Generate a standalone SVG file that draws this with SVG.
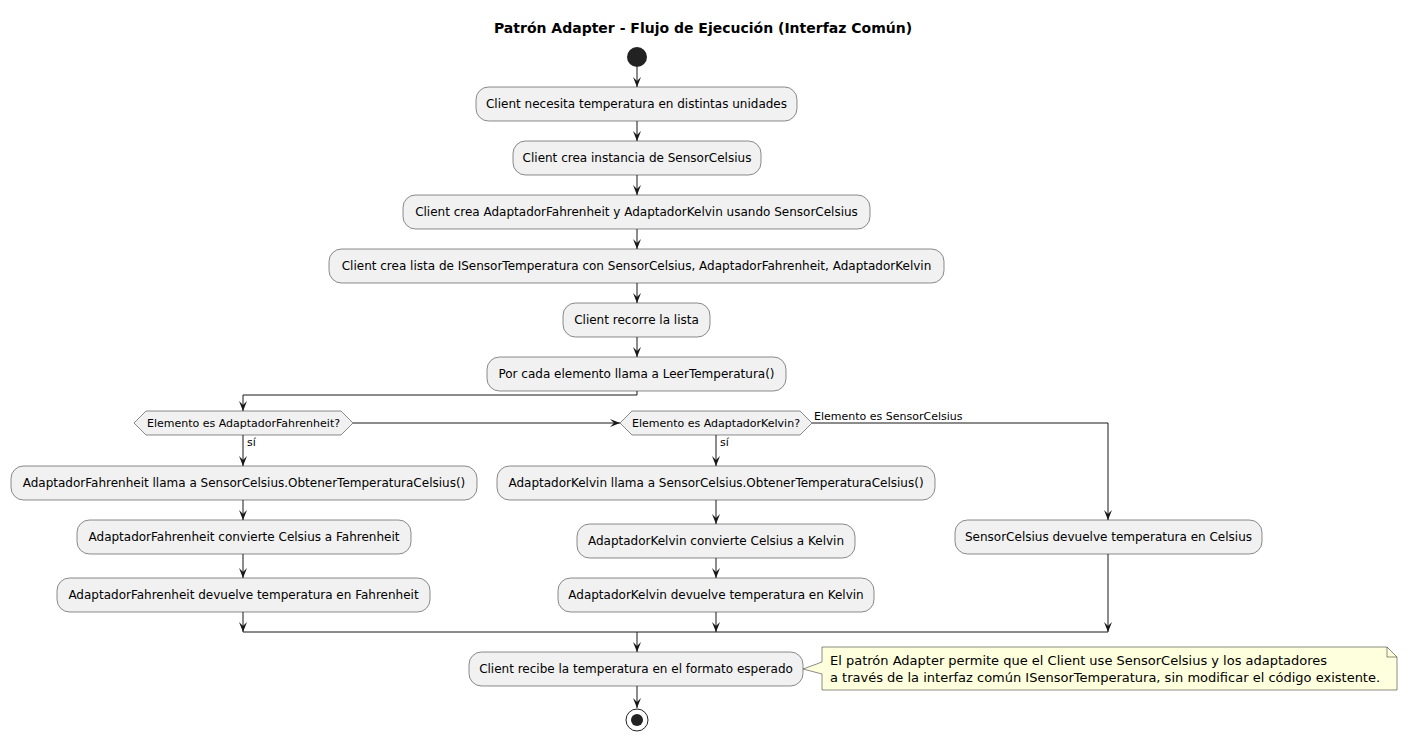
<svg xmlns="http://www.w3.org/2000/svg" width="1408" height="741" viewBox="0 0 1408 741">
<defs>
<marker id="ah" viewBox="0 0 10 10" refX="10" refY="5" markerWidth="10" markerHeight="10" markerUnits="userSpaceOnUse" orient="auto">
<path d="M0,1 L10,5 L0,9 L4,5 Z" fill="#181818"/>
</marker>
<style>
.n{fill:#F1F1F1;stroke:#181818;stroke-width:0.5}
.t{font-family:"DejaVu Sans",sans-serif;font-size:12px;fill:#000;text-anchor:middle}
.d{font-family:"DejaVu Sans",sans-serif;font-size:11px;fill:#000;text-anchor:middle}
.l{font-family:"DejaVu Sans",sans-serif;font-size:11px;fill:#000}
.c{fill:none;stroke:#181818;stroke-width:1}
.a{fill:none;stroke:#181818;stroke-width:1;marker-end:url(#ah)}
.nt{font-family:"DejaVu Sans",sans-serif;font-size:13px;fill:#000}
</style>
</defs>
<rect width="1408" height="741" fill="#FFFFFF"/>
<text x="703" y="33" font-family="DejaVu Sans,sans-serif" font-size="14" font-weight="bold" text-anchor="middle">Patrón Adapter - Flujo de Ejecución (Interfaz Común)</text>

<g id="start"><circle cx="637" cy="57" r="10" fill="#222222"/></g>

<g id="n1"><rect class="n" x="476" y="87" width="321" height="34" rx="12.5"/><text class="t" x="636.5" y="108">Client necesita temperatura en distintas unidades</text></g>
<g id="n2"><rect class="n" x="513" y="141" width="248" height="34" rx="12.5"/><text class="t" x="637" y="162">Client crea instancia de SensorCelsius</text></g>
<g id="n3"><rect class="n" x="403" y="195" width="467" height="34" rx="12.5"/><text class="t" x="636.5" y="216">Client crea AdaptadorFahrenheit y AdaptadorKelvin usando SensorCelsius</text></g>
<g id="n4"><rect class="n" x="329" y="249" width="615" height="34" rx="12.5"/><text class="t" x="636.5" y="270">Client crea lista de ISensorTemperatura con SensorCelsius, AdaptadorFahrenheit, AdaptadorKelvin</text></g>
<g id="n5"><rect class="n" x="563" y="303" width="147" height="34" rx="12.5"/><text class="t" x="636.5" y="324">Client recorre la lista</text></g>
<g id="n6"><rect class="n" x="487" y="357" width="299" height="34" rx="12.5"/><text class="t" x="636.5" y="378">Por cada elemento llama a LeerTemperatura()</text></g>

<g id="d1"><polygon class="n" points="134,423 146,411 341,411 353,423 341,435 146,435"/><text class="d" x="243.5" y="427">Elemento es AdaptadorFahrenheit?</text></g>
<g id="d2"><polygon class="n" points="620,423 632,411 800,411 812,423 800,435 632,435"/><text class="d" x="716" y="427">Elemento es AdaptadorKelvin?</text></g>

<g id="f1"><rect class="n" x="11" y="466" width="466" height="34" rx="12.5"/><text class="t" x="244" y="487">AdaptadorFahrenheit llama a SensorCelsius.ObtenerTemperaturaCelsius()</text></g>
<g id="f2"><rect class="n" x="77" y="520" width="334" height="34" rx="12.5"/><text class="t" x="244" y="541">AdaptadorFahrenheit convierte Celsius a Fahrenheit</text></g>
<g id="f3"><rect class="n" x="57" y="578" width="373" height="34" rx="12.5"/><text class="t" x="243.5" y="599">AdaptadorFahrenheit devuelve temperatura en Fahrenheit</text></g>

<g id="k1"><rect class="n" x="497" y="466" width="438" height="34" rx="12.5"/><text class="t" x="716" y="487">AdaptadorKelvin llama a SensorCelsius.ObtenerTemperaturaCelsius()</text></g>
<g id="k2"><rect class="n" x="577" y="524" width="278" height="34" rx="12.5"/><text class="t" x="716" y="545">AdaptadorKelvin convierte Celsius a Kelvin</text></g>
<g id="k3"><rect class="n" x="558" y="578" width="316" height="34" rx="12.5"/><text class="t" x="716" y="599">AdaptadorKelvin devuelve temperatura en Kelvin</text></g>

<g id="s1"><rect class="n" x="955" y="520" width="307" height="34" rx="12.5"/><text class="t" x="1108.5" y="541">SensorCelsius devuelve temperatura en Celsius</text></g>

<g id="n7"><rect class="n" x="469" y="652" width="334" height="34" rx="12.5"/><text class="t" x="636" y="673">Client recibe la temperatura en el formato esperado</text></g>

<g id="end"><circle cx="637" cy="720" r="11" fill="none" stroke="#222222" stroke-width="1"/><circle cx="637" cy="720" r="6" fill="#222222"/></g>

<g id="note">
<polygon points="822,647 1387,647 1397,657 1397,690 822,690 822,674 803,669 822,662" fill="#FEFFDD" stroke="#181818" stroke-width="0.5"/>
<path d="M1387,647 L1387,657 L1397,657" fill="none" stroke="#181818" stroke-width="0.5"/>
<text class="nt" x="830" y="665">El patrón Adapter permite que el Client use SensorCelsius y los adaptadores</text>
<text class="nt" x="830" y="682">a través de la interfaz común ISensorTemperatura, sin modificar el código existente.</text>
</g>

<g id="connectors">
<line class="a" x1="637" y1="67" x2="637" y2="87"/>
<line class="a" x1="637" y1="121" x2="637" y2="141"/>
<line class="a" x1="637" y1="175" x2="637" y2="195"/>
<line class="a" x1="637" y1="229" x2="637" y2="249"/>
<line class="a" x1="637" y1="283" x2="637" y2="303"/>
<line class="a" x1="637" y1="337" x2="637" y2="357"/>
<polyline class="a" points="637,391 637,395 243,395 243,411"/>
<line class="a" x1="353" y1="423" x2="620" y2="423"/>
<polyline class="a" points="812,423 1108,423 1108,520"/>
<text class="l" x="814" y="420">Elemento es SensorCelsius</text>
<line class="a" x1="243" y1="435" x2="243" y2="466"/>
<text class="l" x="247" y="446">sí</text>
<line class="a" x1="243" y1="500" x2="243" y2="520"/>
<line class="a" x1="243" y1="554" x2="243" y2="578"/>
<line class="a" x1="243" y1="612" x2="243" y2="632"/>
<line class="a" x1="716" y1="435" x2="716" y2="466"/>
<text class="l" x="720" y="446">sí</text>
<line class="a" x1="716" y1="500" x2="716" y2="524"/>
<line class="a" x1="716" y1="558" x2="716" y2="578"/>
<line class="a" x1="716" y1="612" x2="716" y2="632"/>
<line class="a" x1="1108" y1="554" x2="1108" y2="632"/>
<line class="c" x1="243" y1="632" x2="1108" y2="632"/>
<line class="a" x1="637" y1="632" x2="637" y2="652"/>
<line class="a" x1="637" y1="686" x2="637" y2="708"/>
</g>
</svg>
